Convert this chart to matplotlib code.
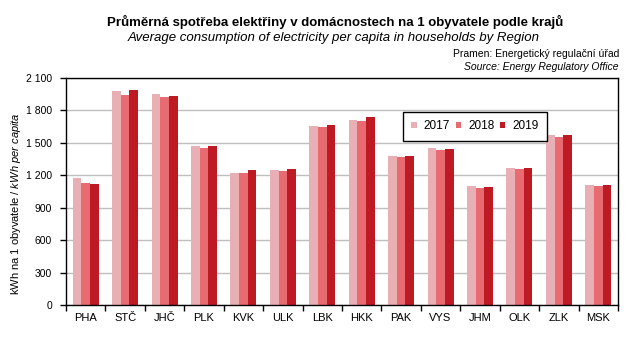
import matplotlib
matplotlib.use("Agg")
import matplotlib.pyplot as plt
import numpy as np
from matplotlib.ticker import FuncFormatter, FixedLocator

plt.rcParams["font.family"] = ["Liberation Sans", "DejaVu Sans"]
plt.rcParams["mathtext.fontset"] = "custom"
plt.rcParams["mathtext.rm"] = "Liberation Sans"
plt.rcParams["mathtext.it"] = "Liberation Sans:italic"

regions = ["PHA", "STČ", "JHČ", "PLK", "KVK", "ULK", "LBK", "HKK",
           "PAK", "VYS", "JHM", "OLK", "ZLK", "MSK"]
years = ["2017", "2018", "2019"]
v2017 = [1176, 1982, 1954, 1472, 1222, 1250, 1657, 1713, 1380, 1454, 1102, 1269, 1574, 1111]
v2018 = [1130, 1945, 1926, 1454, 1222, 1240, 1648, 1704, 1370, 1435, 1083, 1259, 1556, 1102]
v2019 = [1120, 1991, 1935, 1472, 1250, 1259, 1667, 1741, 1380, 1445, 1093, 1269, 1574, 1111]
colors = ["#E8B0B4", "#E96B72", "#BE1A24"]

W, H = 643, 344
fig = plt.figure(figsize=(W / 100, H / 100), dpi=100)
# plot area in pixels: left 66, right 618, top 78, bottom 305
ax = fig.add_axes([66 / W, 1 - 305 / H, 552 / W, 227 / H])

x = np.arange(len(regions))
w = 0.22
for i, (vals, c, lab) in enumerate(zip([v2017, v2018, v2019], colors, years)):
    ax.bar(x + (i - 1) * w, vals, width=w, color=c, label=lab, zorder=2)

ax.set_xlim(-0.5, len(regions) - 0.5)
ax.set_ylim(0, 2100)
ax.set_yticks(np.arange(0, 2101, 300))
ax.yaxis.set_major_formatter(FuncFormatter(lambda v, p: f"{int(v):,}".replace(",", " ")))
ax.grid(axis="y", color="#BFBFBF", linewidth=1.0, zorder=0)

ax.set_xticks(x)
ax.set_xticklabels(regions)
ax.xaxis.set_minor_locator(FixedLocator(np.arange(-0.5, len(regions), 1)))
ax.tick_params(axis="x", which="major", length=0, pad=6, labelsize=8)
ax.tick_params(axis="x", which="minor", length=4, width=1, direction="out")
ax.tick_params(axis="y", length=4, width=1, direction="out", labelsize=7.5, pad=6)
for s in ax.spines.values():
    s.set_linewidth(1.0)

fig.text(16 / W, 1 - 204 / H, r"kWh na 1 obyvatele / $\it{kWh\ per\ capita}$",
         rotation=90, ha="center", va="center", fontsize=8)

# legend box spans x 403-547, y 112-137 px
leg = ax.legend(loc="upper left",
                bbox_to_anchor=((403 - 66) / 552, (305 - 137) / 227, 144 / 552, 25 / 227),
                mode="expand", borderaxespad=0, ncol=3, fontsize=8.5,
                frameon=True, fancybox=False, edgecolor="black", framealpha=1,
                handlelength=0.45, handleheight=0.45, handletextpad=0.6,
                columnspacing=0.9, borderpad=0.7)
leg.get_frame().set_linewidth(1.0)

fig.text(335 / W, 1 - 22 / H, "Průměrná spotřeba elektřiny v domácnostech na 1 obyvatele podle krajů",
         ha="center", va="center", fontsize=9.5, fontweight="bold")
fig.text(334 / W, 1 - 38 / H, "Average consumption of electricity per capita in households by Region",
         ha="center", va="center", fontsize=9.5, style="italic")
fig.text(619 / W, 1 - 54 / H, "Pramen: Energetický regulační úřad",
         ha="right", va="center", fontsize=7.5)
fig.text(619 / W, 1 - 67 / H, "Source: Energy Regulatory Office",
         ha="right", va="center", fontsize=7.5, style="italic")

fig.savefig("out.png", dpi=100)
